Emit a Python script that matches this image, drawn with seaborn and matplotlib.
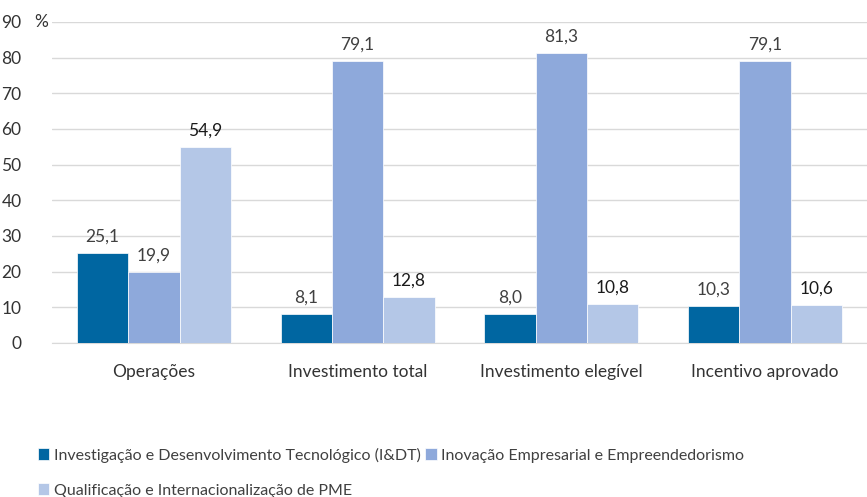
import pandas as pd
import matplotlib.pyplot as plt
import seaborn as sns

# Dados
categorias = ['Operações', 'Investimento total', 'Investimento elegível', 'Incentivo aprovado']
series = ['Investigação e Desenvolvimento Tecnológico (I&DT)',
          'Inovação Empresarial e Empreendedorismo',
          'Qualificação e Internacionalização de PME']
idt = [25.1, 8.1, 8.0, 10.3]
inovacao = [19.9, 79.1, 81.3, 79.1]
qualificacao = [54.9, 12.8, 10.8, 10.6]

cores = ['#0066A1', '#8EA9DB', '#B4C7E7']
cores_rotulos = ['#404040', '#404040', '#1A1A1A']

df = pd.DataFrame({
    'Categoria': categorias * 3,
    'Programa': [series[0]] * 4 + [series[1]] * 4 + [series[2]] * 4,
    'Valor': idt + inovacao + qualificacao,
})

sns.set_style('white')
plt.rcParams['font.family'] = ['Lato', 'DejaVu Sans']

fig = plt.figure(figsize=(8.67, 4.97), dpi=100)
ax = fig.add_axes([0.06, 0.31, 0.94, 0.646])

sns.barplot(data=df, x='Categoria', y='Valor', hue='Programa', order=categorias,
            hue_order=series, palette=cores, width=0.755, gap=0, saturation=1,
            edgecolor='white', linewidth=0.5, ax=ax, zorder=3)

# Rótulos dos valores
for cont, cor in zip(ax.containers, cores_rotulos):
    rot = [f'{b.get_height():.1f}'.replace('.', ',') for b in cont]
    ax.bar_label(cont, labels=rot, padding=6, fontsize=12.5, color=cor)

ax.set_ylim(0, 90)
ax.set_xlim(-0.5, 3.5)
ax.set_yticks(range(0, 91, 10))
ax.yaxis.grid(True, color='#D9D9D9', linewidth=1, zorder=0)
ax.set_axisbelow(True)
for s in ['top', 'right', 'left']:
    ax.spines[s].set_visible(False)
ax.spines['bottom'].set_color('#D9D9D9')
ax.tick_params(axis='y', labelsize=12.5, colors='#333333', length=0, pad=22)
ax.tick_params(axis='x', labelsize=12.5, colors='#333333', length=0, pad=15)
ax.set_xlabel('')
ax.set_ylabel('')
ax.text(-0.005, 90, '%', transform=ax.get_yaxis_transform(), fontsize=12.5,
        color='#333333', ha='right', va='center')

# Legenda em baixo (preenchida por linhas)
handles, labels = ax.get_legend_handles_labels()
ax.legend_.remove()
ordem = [0, 2, 1]
fig.legend([handles[i] for i in ordem], [labels[i] for i in ordem],
           loc='lower left', bbox_to_anchor=(0.027, -0.03), ncol=2,
           frameon=False, fontsize=11.5, handlelength=0.7, handleheight=0.7,
           handletextpad=0.3, columnspacing=0.3, labelspacing=1.3, labelcolor='#404040')

plt.savefig('out.png', dpi=100)
